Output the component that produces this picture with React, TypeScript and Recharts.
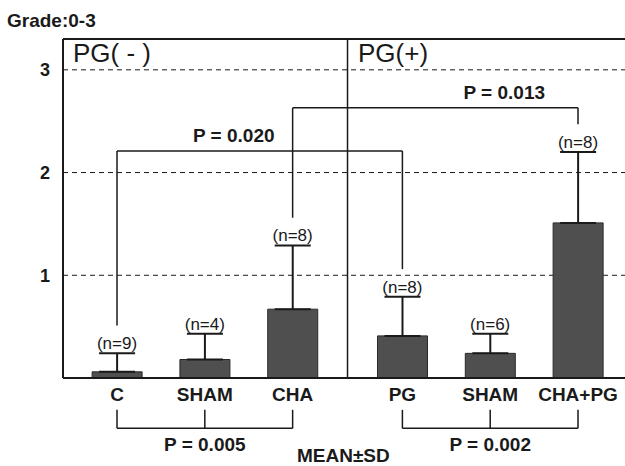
import React from 'react';
import {
  ComposedChart,
  Bar,
  Line,
  XAxis,
  YAxis,
  CartesianGrid,
  ErrorBar,
  LabelList,
  ReferenceLine,
  ReferenceDot,
} from 'recharts';

// groups
const categories = ['C', 'SHAM', 'CHA', 'PG', 'SHAM', 'CHA+PG'];
const positions = [0, 1, 2, 3.25, 4.25, 5.25];
const means = [0.06, 0.18, 0.67, 0.41, 0.24, 1.51];
const sds = [0.18, 0.25, 0.62, 0.38, 0.19, 0.69];
const counts = [9, 4, 8, 8, 6, 8];
const yTicks = [1, 2, 3];

// comparison brackets (indices into the groups)
const topBrackets = [
  { from: 0, to: 3, level: 2.21, text: 'P = 0.020', textAt: 1.33 },
  { from: 2, to: 5, level: 2.63, text: 'P = 0.013', textAt: 4.41 },
];
const bottomBrackets = [
  { from: 0, mid: 1, to: 2, text: 'P = 0.005' },
  { from: 3, mid: 4, to: 5, text: 'P = 0.002' },
];

const X_MIN = -0.615;
const X_MAX = 5.785;
const Y_MAX = 3.3;
const DIVIDER = 2.625;
const LEG_GAP = 0.27;
const BOTTOM_HI = -0.31;
const BOTTOM_LO = -0.49;

const FONT = '"Liberation Sans", Arial, Helvetica, sans-serif';
const INK = '#1a1a1a';

const data = categories.map((name, i) => ({
  pos: positions[i],
  name,
  mean: means[i],
  err: [0, sds[i]],
  top: means[i] + sds[i],
  n: `(n=${counts[i]})`,
}));

const legEnd = (i: number) => means[i] + sds[i] + LEG_GAP;

const App: React.FC = () => {
  return (
    <div style={{ position: 'absolute', left: 0, top: 0, width: 625, height: 466, background: '#fff', fontFamily: FONT }}>
      <div style={{ position: 'absolute', left: 7, top: 11, fontSize: 19, fontWeight: 'bold', lineHeight: '19px', color: INK }}>
        Grade:0-3
      </div>
      <div style={{ position: 'absolute', left: 73, top: 40, fontSize: 26, lineHeight: '26px', color: INK, zIndex: 2 }}>
        PG( - )
      </div>
      <div style={{ position: 'absolute', left: 358, top: 40, fontSize: 26, lineHeight: '26px', color: INK, zIndex: 2 }}>
        PG(+)
      </div>
      <div style={{ position: 'absolute', left: 297, top: 446, fontSize: 19, fontWeight: 'bold', lineHeight: '19px', color: INK }}>
        MEAN±SD
      </div>

      <ComposedChart width={625} height={466} data={data} margin={{ top: 39, right: 0, left: 0, bottom: 58 }}>
        <CartesianGrid horizontal vertical={false} stroke={INK} strokeDasharray="5 4" />
        <XAxis
          type="number"
          dataKey="pos"
          domain={[X_MIN, X_MAX]}
          ticks={positions}
          interval={0}
          allowDataOverflow
          height={30}
          tickSize={0}
          tickMargin={10}
          tickLine={false}
          axisLine={{ stroke: INK, strokeWidth: 2 }}
          tickFormatter={(v: number) => categories[positions.indexOf(v)] ?? ''}
          tick={{ fill: INK, fontSize: 19, fontWeight: 'bold', fontFamily: FONT }}
        />
        <YAxis
          type="number"
          domain={[0, Y_MAX]}
          ticks={yTicks}
          allowDataOverflow
          width={63}
          tickSize={0}
          tickMargin={13}
          tickLine={false}
          axisLine={{ stroke: INK, strokeWidth: 2 }}
          tick={{ fill: INK, fontSize: 18, fontWeight: 'bold', fontFamily: FONT }}
        />

        <ReferenceLine y={Y_MAX} stroke={INK} strokeWidth={2} />
        <ReferenceLine x={DIVIDER} stroke={INK} strokeWidth={1.5} />

        <Bar dataKey="mean" barSize={50} fill="#4f4f4f" stroke="#2a2a2a" strokeWidth={1} isAnimationActive={false}>
          <ErrorBar dataKey="err" width={18} stroke={INK} strokeWidth={2} direction="y" />
        </Bar>
        <Line dataKey="top" stroke="none" dot={false} activeDot={false} legendType="none" isAnimationActive={false}>
          <LabelList dataKey="n" position="top" offset={4} fill={INK} fontSize={17} fontFamily={FONT} />
        </Line>

        {topBrackets.map((b) => (
          <React.Fragment key={b.text}>
            <ReferenceLine
              ifOverflow="visible"
              stroke={INK}
              strokeWidth={1.5}
              segment={[{ x: positions[b.from], y: legEnd(b.from) }, { x: positions[b.from], y: b.level }]}
            />
            <ReferenceLine
              ifOverflow="visible"
              stroke={INK}
              strokeWidth={1.5}
              segment={[{ x: positions[b.from], y: b.level }, { x: positions[b.to], y: b.level }]}
            />
            <ReferenceLine
              ifOverflow="visible"
              stroke={INK}
              strokeWidth={1.5}
              segment={[{ x: positions[b.to], y: b.level }, { x: positions[b.to], y: legEnd(b.to) }]}
            />
            <ReferenceDot
              x={b.textAt}
              y={b.level}
              r={0}
              fill="none"
              stroke="none"
              ifOverflow="visible"
              label={{ value: b.text, position: 'top', offset: 9, fill: INK, fontSize: 19, fontWeight: 'bold', fontFamily: FONT }}
            />
          </React.Fragment>
        ))}

        {bottomBrackets.map((b) => (
          <React.Fragment key={b.text}>
            {[b.from, b.mid, b.to].map((i) => (
              <ReferenceLine
                key={i}
                ifOverflow="visible"
                stroke={INK}
                strokeWidth={1.5}
                segment={[{ x: positions[i], y: BOTTOM_HI }, { x: positions[i], y: BOTTOM_LO }]}
              />
            ))}
            <ReferenceLine
              ifOverflow="visible"
              stroke={INK}
              strokeWidth={1.5}
              segment={[{ x: positions[b.from], y: BOTTOM_LO }, { x: positions[b.to], y: BOTTOM_LO }]}
            />
            <ReferenceDot
              x={positions[b.mid]}
              y={BOTTOM_LO}
              r={0}
              fill="none"
              stroke="none"
              ifOverflow="visible"
              label={{ value: b.text, position: 'bottom', offset: 9, fill: INK, fontSize: 19, fontWeight: 'bold', fontFamily: FONT }}
            />
          </React.Fragment>
        ))}
      </ComposedChart>
    </div>
  );
};

export default App;
